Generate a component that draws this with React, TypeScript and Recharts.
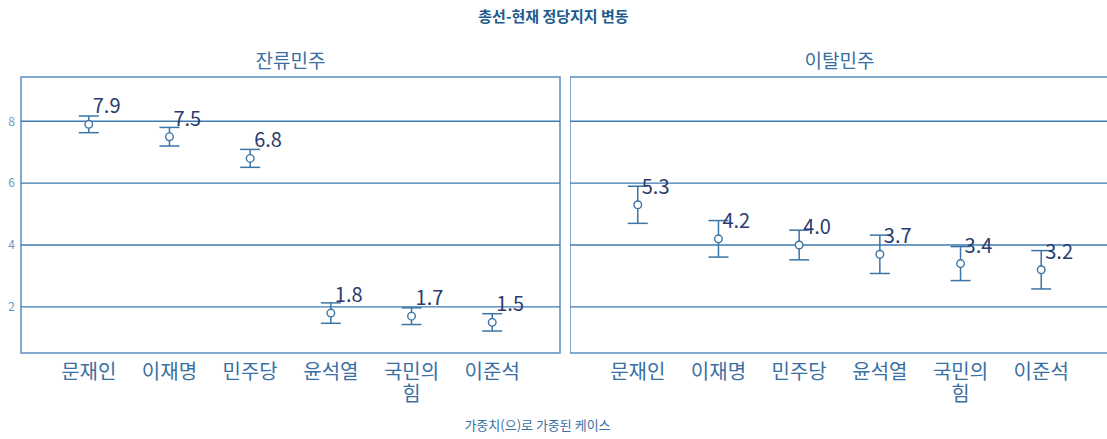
import React from "react";
import {
  ErrorBar,
  ReferenceArea,
  ReferenceLine,
  Scatter,
  ScatterChart,
  XAxis,
  YAxis,
} from "recharts";

// ---------------------------------------------------------------------------
// Data
// ---------------------------------------------------------------------------

const CATEGORIES = ["문재인", "이재명", "민주당", "윤석열", "국민의힘", "이준석"];
const STAY_VALUES = [7.9, 7.5, 6.8, 1.8, 1.7, 1.5];
const STAY_ERRORS = [0.27, 0.3, 0.29, 0.33, 0.27, 0.28];
const LEAVE_VALUES = [5.3, 4.2, 4.0, 3.7, 3.4, 3.2];
const LEAVE_ERRORS = [0.6, 0.59, 0.48, 0.62, 0.55, 0.62];
const Y_TICKS = [2, 4, 6, 8];
const PANEL_TITLES = ["잔류민주", "이탈민주"];
const TITLE = "총선-현재 정당지지 변동";
const FOOTNOTE = "가중치(으)로 가중된 케이스";

// ---------------------------------------------------------------------------
// Styling
// ---------------------------------------------------------------------------

const FONT = '"Noto Sans CJK KR", "Noto Sans", sans-serif';
const MARK = "#3b74a6";
const GRID = "#3f7bb0";
const FRAME = "#5b8cbf";
const LABEL = "#2a3b6e";
const TICK_TEXT = "#3a6fa3";
const YTICK_TEXT = "#6e97c2";

const X_DOMAIN: [number, number] = [-0.84, CATEGORIES.length - 1 + 0.84];
const Y_DOMAIN: [number, number] = [0.51, 9.43];
const X_TICKS = CATEGORIES.map((_, i) => i);

const toPoints = (values: number[], errors: number[]) =>
  values.map((v, i) => ({ x: i, y: v, err: errors[i] }));

function CategoryTick(props: any) {
  const { x, y, payload } = props;
  const name = CATEGORIES[payload.value] ?? "";
  const lines = name.length > 3 ? [name.slice(0, 3), name.slice(3)] : [name];
  return (
    <text
      x={x}
      y={y + 18}
      textAnchor="middle"
      fill={TICK_TEXT}
      fontSize={20}
      fontFamily={FONT}
    >
      {lines.map((l, i) => (
        <tspan key={i} x={x} dy={i === 0 ? 0 : 22}>
          {l}
        </tspan>
      ))}
    </text>
  );
}

function PointShape(props: any) {
  const { cx, cy, payload } = props;
  return (
    <g>
      <circle cx={cx} cy={cy} r={3.8} fill="#fff" stroke={MARK} strokeWidth={1.4} />
      <text
        x={cx + 4}
        y={cy - 11}
        fill={LABEL}
        fontSize={20}
        fontFamily={FONT}
      >
        {payload.y.toFixed(1)}
      </text>
    </g>
  );
}

function Panel({
  values,
  errors,
  showY,
  width,
}: {
  values: number[];
  errors: number[];
  showY: boolean;
  width: number;
}) {
  const data = toPoints(values, errors);
  return (
    <ScatterChart
      width={width}
      height={439}
      margin={{ top: 77, right: showY ? 2 : 0, bottom: 0, left: 0 }}
    >
      <XAxis
        type="number"
        dataKey="x"
        domain={X_DOMAIN}
        ticks={X_TICKS}
        allowDataOverflow
        interval={0}
        height={86}
        axisLine={false}
        tickLine={false}
        tickSize={6}
        tickMargin={2}
        tick={<CategoryTick />}
      />
      <YAxis
        type="number"
        dataKey="y"
        domain={Y_DOMAIN}
        ticks={Y_TICKS}
        allowDataOverflow
        hide={!showY}
        width={21}
        axisLine={false}
        tickLine={false}
        tickSize={4}
        tickMargin={2}
        tick={{ fill: YTICK_TEXT, fontSize: 12, fontFamily: FONT }}
      />
      {Y_TICKS.map((v) => (
        <ReferenceLine key={v} y={v} stroke={GRID} strokeWidth={1.3} />
      ))}
      <ReferenceArea
        x1={X_DOMAIN[0]}
        x2={X_DOMAIN[1]}
        y1={Y_DOMAIN[0]}
        y2={Y_DOMAIN[1]}
        fill="none"
        fillOpacity={0}
        stroke={FRAME}
        strokeWidth={1.5}
        strokeOpacity={1}
      />
      <Scatter data={data} isAnimationActive={false} shape={<PointShape />}>
        <ErrorBar
          dataKey="err"
          direction="y"
          width={10}
          stroke={MARK}
          strokeWidth={1.5}
          isAnimationActive={false}
        />
      </Scatter>
    </ScatterChart>
  );
}

export default function App() {
  return (
    <div
      style={{
        position: "absolute",
        left: 0,
        top: 0,
        width: 1107,
        height: 439,
        overflow: "hidden",
        background: "#fff",
        fontFamily: FONT,
      }}
    >
      <div
        style={{
          position: "absolute",
          left: 0,
          width: 1107,
          top: 6,
          textAlign: "center",
          fontSize: 15,
          fontWeight: 700,
          color: "#1d5a8e",
          lineHeight: "20px",
        }}
      >
        {TITLE}
      </div>
      <div
        style={{
          position: "absolute",
          left: 21,
          width: 539,
          top: 47,
          textAlign: "center",
          fontSize: 19,
          color: TICK_TEXT,
          lineHeight: "26px",
        }}
      >
        {PANEL_TITLES[0]}
      </div>
      <div
        style={{
          position: "absolute",
          left: 570,
          width: 539,
          top: 47,
          textAlign: "center",
          fontSize: 19,
          color: TICK_TEXT,
          lineHeight: "26px",
        }}
      >
        {PANEL_TITLES[1]}
      </div>
      <div style={{ position: "absolute", left: 0, top: 0 }}>
        <Panel values={STAY_VALUES} errors={STAY_ERRORS} showY width={562} />
      </div>
      <div style={{ position: "absolute", left: 570, top: 0 }}>
        <Panel values={LEAVE_VALUES} errors={LEAVE_ERRORS} showY={false} width={539} />
      </div>
      <div
        style={{
          position: "absolute",
          left: 0,
          width: 1075,
          top: 416,
          textAlign: "center",
          fontSize: 13,
          color: TICK_TEXT,
          lineHeight: "18px",
        }}
      >
        {FOOTNOTE}
      </div>
    </div>
  );
}
